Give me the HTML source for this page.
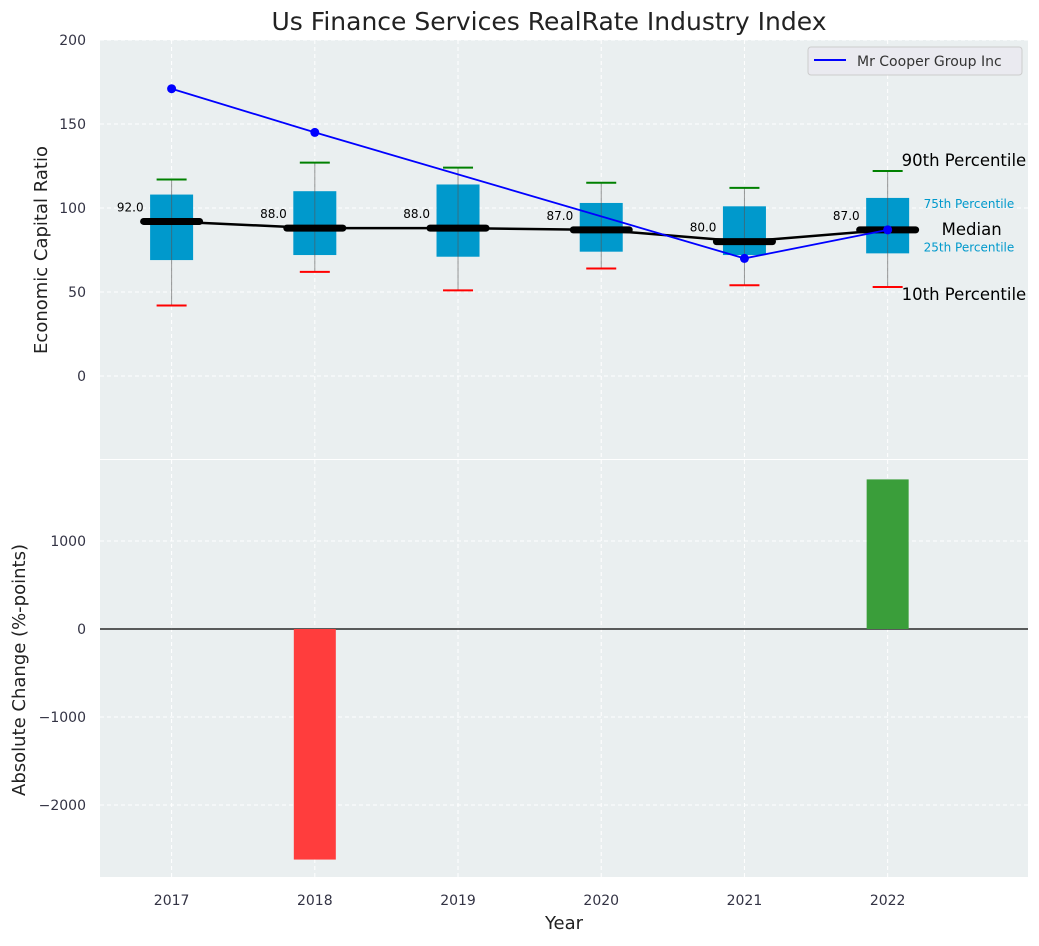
<!DOCTYPE html>
<html><head><meta charset="utf-8"><style>
body{margin:0;background:#fff;font-family:"DejaVu Sans","Liberation Sans",sans-serif}
svg text{font-family:"DejaVu Sans","Liberation Sans",sans-serif}
</style></head><body>
<svg id="c" width="1039" height="942" xmlns="http://www.w3.org/2000/svg"></svg>
<script>
const years=[2017,2018,2019,2020,2021,2022];
const p10=[42,62,51,64,54,53];
const q1=[69,72,71,74,72,73];
const med=[92,88,88,87,80,87];
const q3=[108,110,114,103,101,106];
const p90=[117,127,124,115,112,122];
const company=[171,145,null,null,70,87];
const change=[null,-2620,null,null,null,1700];
const topTicks=[0,50,100,150,200];
const botTicks=[-2000,-1000,0,1000];

const NS='http://www.w3.org/2000/svg';
const svg=document.getElementById('c');
function el(t,a,p){const e=document.createElementNS(NS,t);for(const k in a)e.setAttribute(k,a[k]);(p||svg).appendChild(e);return e;}
const L=100,R=1028;
const x=i=>L+(i+0.5)*(R-L)/6.48;
const yT=v=>376-v*1.68;
const yB=v=>629-v*0.088;

let r=el('rect',{x:L,y:40,width:R-L,height:419,fill:'#eaeff0'});

r=el('rect',{x:L,y:460,width:R-L,height:417,fill:'#eaeff0'});


years.forEach((y,i)=>{
  let g=el('line',{x1:x(i),x2:x(i),y1:40,y2:459,stroke:'#fff','stroke-dasharray':'4,3'});
  
  g=el('line',{x1:x(i),x2:x(i),y1:460,y2:877,stroke:'#fff','stroke-dasharray':'4,3'});
  
  let t=el('text',{x:x(i),y:905,'text-anchor':'middle','font-size':14,fill:'#334'});t.textContent=y;
  
});
topTicks.forEach(v=>{
  let g=el('line',{x1:L,x2:R,y1:yT(v),y2:yT(v),stroke:'#fff','stroke-dasharray':'4,3'});
  
  let t=el('text',{x:86,y:yT(v)+5,'text-anchor':'end','font-size':14,fill:'#334'});t.textContent=v;
  
});
botTicks.forEach(v=>{
  if(v!==0){let g=el('line',{x1:L,x2:R,y1:yB(v),y2:yB(v),stroke:'#fff','stroke-dasharray':'4,3'});
  }
  let t=el('text',{x:86,y:yB(v)+5,'text-anchor':'end','font-size':14,fill:'#334'});t.textContent=(v<0?'\u2212'+(-v):v);
  
});
let z=el('line',{x1:L,x2:R,y1:yB(0),y2:yB(0),stroke:'#000','stroke-width':1.2});


years.forEach((y,i)=>{
  const cx=x(i);
  let b=el('rect',{x:cx-21.5,y:yT(q3[i]),width:43,height:yT(q1[i])-yT(q3[i]),fill:'#0099cc'});
  
  let w2=el('line',{x1:cx,x2:cx,y1:yT(p10[i]),y2:yT(p90[i]),stroke:'#555','stroke-width':1,opacity:0.6});
  
  let c=el('line',{x1:cx-15,x2:cx+15,y1:yT(p90[i]),y2:yT(p90[i]),stroke:'green','stroke-width':2});
  
  c=el('line',{x1:cx-15,x2:cx+15,y1:yT(p10[i]),y2:yT(p10[i]),stroke:'red','stroke-width':2});
  
});
let mp=el('polyline',{points:med.map((v,i)=>x(i)+','+yT(v)).join(' '),fill:'none',stroke:'#000','stroke-width':2.5});

years.forEach((y,i)=>{
  const cx=x(i);
  let m=el('line',{x1:cx-28,x2:cx+28,y1:yT(med[i]),y2:yT(med[i]),stroke:'#000','stroke-width':7,'stroke-linecap':'round'});
  
  let t=el('text',{x:cx-28,y:yT(med[i])-10,'text-anchor':'end','font-size':12,fill:'#000'});t.textContent=med[i].toFixed(1);
  
});
const pts=[];company.forEach((v,i)=>{if(v!==null)pts.push([x(i),yT(v)]);});
let cl=el('polyline',{points:pts.map(p=>p.join(',')).join(' '),fill:'none',stroke:'#0000ff','stroke-width':1.8});

pts.forEach(p=>{let d=el('circle',{cx:p[0],cy:p[1],r:4.5,fill:'#0000ff'});
  });

const ax=x(5);
[['90th Percentile',ax+14,yT(p90[5])-5,16.5,'#000'],['75th Percentile',ax+36,yT(q3[5])+10,12,'#0099cc'],
 ['Median',ax+54,yT(med[5])+5,16.5,'#000'],['25th Percentile',ax+36,yT(q1[5])-2,12,'#0099cc'],
 ['10th Percentile',ax+14,yT(p10[5])+13,16.5,'#000']].forEach(a=>{
  let t=el('text',{x:a[1],y:a[2],'font-size':a[3],fill:a[4]});t.textContent=a[0];
  
});

let lg=el('rect',{x:808,y:47,width:214,height:28,rx:3,fill:'#eaeaf0',stroke:'#ccc'});

let ll=el('line',{x1:814,x2:846,y1:60,y2:60,stroke:'#0000ff','stroke-width':2});

let lt=el('text',{x:857,y:66,'font-size':14,fill:'#333'});lt.textContent='Mr Cooper Group Inc';


change.forEach((v,i)=>{
  if(v===null)return;
  let b=el('rect',{x:x(i)-21,y:Math.min(yB(0),yB(v)),width:42,height:Math.abs(yB(v)-yB(0)),fill:v<0?'#ff3d3d':'#3a9e3a'});
  
});

let t=el('text',{x:549,y:30,'text-anchor':'middle','font-size':25,fill:'#222'});t.textContent='Us Finance Services RealRate Industry Index';

t=el('text',{x:0,y:0,'text-anchor':'middle','font-size':18,fill:'#222',transform:'translate(47,250) rotate(-90)'});t.textContent='Economic Capital Ratio';

t=el('text',{x:0,y:0,'text-anchor':'middle','font-size':18,fill:'#222',transform:'translate(25,670) rotate(-90)'});t.textContent='Absolute Change (%-points)';

t=el('text',{x:564,y:929,'text-anchor':'middle','font-size':18,fill:'#222'});t.textContent='Year';

</script>
</body></html>
